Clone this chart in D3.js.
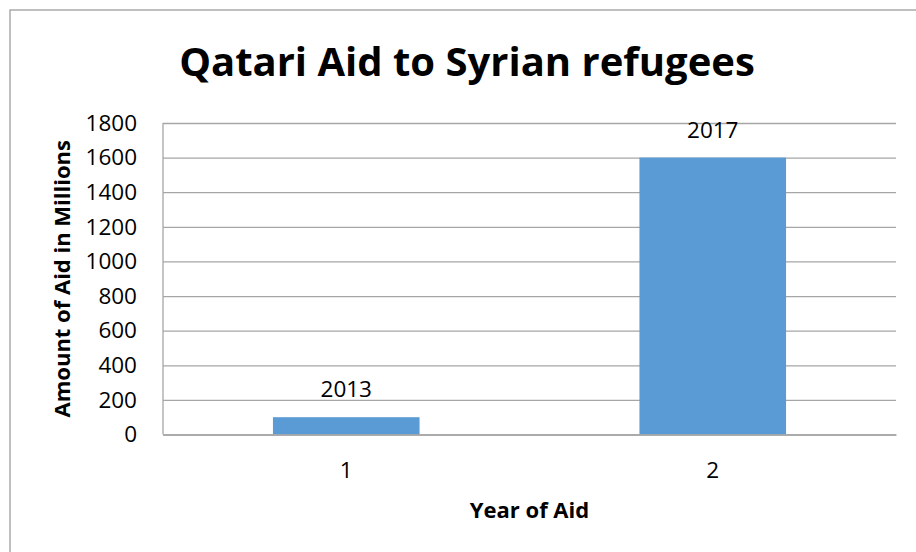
<!DOCTYPE html>
<html>
<head>
<meta charset="utf-8">
<script src="https://cdn.jsdelivr.net/npm/d3@7"></script>
<style>
  body { margin: 0; background: #fff; }
  text { font-family: "Open Sans", sans-serif; fill: #000; }
</style>
</head>
<body>
<div id="chart"></div>
<script>
const categories = ["1", "2"];
const values = [100, 1600];
const barLabels = ["2013", "2017"];
const yTicks = [0, 200, 400, 600, 800, 1000, 1200, 1400, 1600, 1800];

const width = 916,
  height = 552,
  margin = ({top: 123, right: 20, bottom: 117.5, left: 163});

const svg = d3.select("#chart")
  .append("svg")
  .attr("width", width)
  .attr("height", height);

// outer chart border (runs off the right and bottom of the picture)
svg.append("rect")
  .attr("x", 10)
  .attr("y", 10)
  .attr("width", width + 20)
  .attr("height", height + 20)
  .attr("fill", "none")
  .attr("stroke", "#ababab")
  .attr("stroke-width", 1.5);

let x = d3.scaleBand()
  .domain(categories)
  .range([margin.left, width - margin.right])
  .paddingInner(0.6)
  .paddingOuter(0.3);

let y = d3.scaleLinear()
  .domain([0, 1800])
  .range([height - margin.bottom, margin.top]);

// gridlines + y labels
let yAxis = svg.append("g")
  .attr("transform", `translate(${margin.left},0)`)
  .call(d3.axisLeft(y).tickValues(yTicks).tickFormat(d3.format("d"))
    .tickSize(-(width - margin.left - margin.right)).tickPadding(26));
yAxis.select(".domain").remove();
yAxis.selectAll(".tick line").attr("stroke", "#a6a6a6").attr("stroke-width", 1.3);
yAxis.selectAll(".tick text")
  .attr("font-size", 22.5)
  .attr("font-family", "Open Sans, sans-serif")
  .attr("fill", "#000");

// left axis line
svg.append("line")
  .attr("x1", margin.left).attr("x2", margin.left)
  .attr("y1", y(1800)).attr("y2", y(0))
  .attr("stroke", "#a6a6a6").attr("stroke-width", 1.3);

// bars
svg.append("g")
  .selectAll("rect")
  .data(values)
  .join("rect")
  .attr("x", (d, i) => x(categories[i]))
  .attr("y", d => y(d))
  .attr("width", x.bandwidth())
  .attr("height", d => y(0) - y(d))
  .attr("fill", "#5b9bd5");

// data labels
svg.append("g")
  .selectAll("text")
  .data(values)
  .join("text")
  .attr("x", (d, i) => x(categories[i]) + x.bandwidth() / 2)
  .attr("y", d => y(d) - 20)
  .attr("text-anchor", "middle")
  .attr("font-size", 22.5)
  .text((d, i) => barLabels[i]);

// x axis
let xAxis = svg.append("g")
  .attr("transform", `translate(0,${height - margin.bottom})`)
  .call(d3.axisBottom(x).tickSize(0).tickPadding(28));
xAxis.select(".domain").attr("stroke", "#a6a6a6").attr("stroke-width", 1.3);
xAxis.selectAll(".tick text")
  .attr("font-size", 22.5)
  .attr("font-family", "Open Sans, sans-serif")
  .attr("fill", "#000");

// title
svg.append("text")
  .attr("x", 467)
  .attr("y", 76)
  .attr("text-anchor", "middle")
  .attr("font-size", 40)
  .attr("font-weight", "bold")
  .text("Qatari Aid to Syrian refugees");

// axis titles
svg.append("text")
  .attr("x", (margin.left + width - margin.right) / 2)
  .attr("y", 518)
  .attr("text-anchor", "middle")
  .attr("font-size", 22)
  .attr("font-weight", "bold")
  .text("Year of Aid");

svg.append("text")
  .attr("transform", `translate(70,${(y(0) + y(1800)) / 2}) rotate(-90)`)
  .attr("text-anchor", "middle")
  .attr("font-size", 22)
  .attr("font-weight", "bold")
  .text("Amount of Aid in Millions");
</script>
</body>
</html>
